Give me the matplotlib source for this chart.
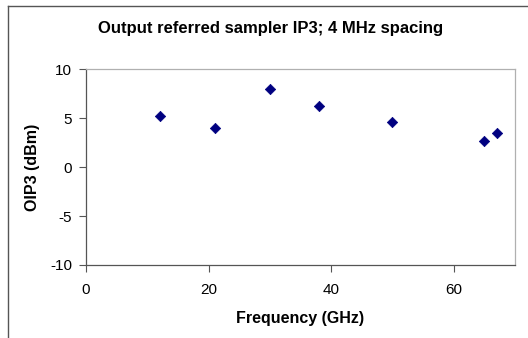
import matplotlib
matplotlib.use("Agg")
import matplotlib.pyplot as plt
from matplotlib.lines import Line2D

plt.rcParams['font.family'] = ['Liberation Sans', 'DejaVu Sans']
plt.rcParams['axes.unicode_minus'] = False

# Measured sampler OIP3 versus input frequency
freq_ghz = [12, 21, 30, 38, 50, 65, 67]
oip3_dbm = [5.2, 4.0, 8.0, 6.2, 4.6, 2.65, 3.45]

x_ticks = [0, 20, 40, 60]
y_ticks = [-10, -5, 0, 5, 10]

W, H = 528, 338
fig = plt.figure(figsize=(W / 100, H / 100), dpi=100)
fig.patch.set_facecolor('white')

ax = fig.add_axes([86 / W, 1 - 265 / H, (515 - 86) / W, (265 - 69.3) / H])
ax.scatter(freq_ghz, oip3_dbm, marker='D', s=28, color='#000080',
           edgecolors='#000080', linewidths=0.5, zorder=3)

ax.set_xlim(0, 70)
ax.set_ylim(-10, 10)
ax.set_xticks(x_ticks)
ax.set_yticks(y_ticks)
ax.tick_params(axis='both', direction='out', length=5, width=0.8,
               color='#555555', labelsize=11, labelcolor='black')
ax.tick_params(axis='x', pad=8)
ax.tick_params(axis='y', pad=5)

for side in ('left', 'bottom'):
    ax.spines[side].set_color('#555555')
    ax.spines[side].set_linewidth(0.9)
for side in ('top', 'right'):
    ax.spines[side].set_color('#b0b0b0')
    ax.spines[side].set_linewidth(0.9)

ax.set_xlabel('Frequency (GHz)', fontsize=11.5, fontweight='bold')
ax.set_ylabel('OIP3 (dBm)', fontsize=11.5, fontweight='bold')

# Axis titles at fixed positions relative to the plot frame
plot_w, plot_h = 515 - 86, 265 - 69.3
ax.xaxis.set_label_coords((300 - 86) / plot_w, -(318 - 265) / plot_h)
ax.xaxis.label.set_va('center')
ax.yaxis.set_label_coords(-(86 - 33) / plot_w, (265 - 167) / plot_h)
ax.yaxis.label.set_va('center')

fig.text(271 / W, 1 - 28 / H, 'Output referred sampler IP3; 4 MHz spacing',
         ha='center', va='center', fontsize=12, fontweight='bold')

# Chart frame (top and left edges)
fig.add_artist(Line2D([8 / W, 1], [1 - 6 / H, 1 - 6 / H], transform=fig.transFigure,
                      color='#555555', linewidth=1.0))
fig.add_artist(Line2D([8 / W, 8 / W], [0, 1 - 6 / H], transform=fig.transFigure,
                      color='#555555', linewidth=1.0))

fig.savefig('out.png', dpi=100, facecolor='white')
